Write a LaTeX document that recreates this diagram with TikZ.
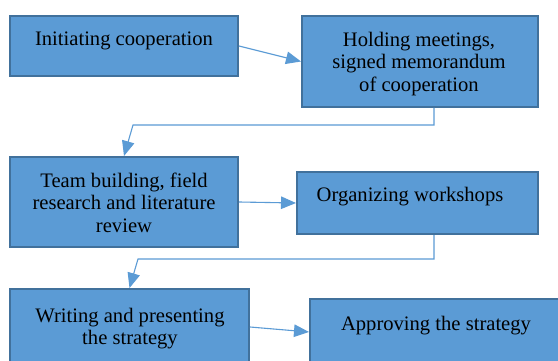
\documentclass[tikz,border=0pt]{standalone}
\usepackage{fontspec}
\setmainfont{Liberation Serif}
\usetikzlibrary{arrows.meta,calc}
\definecolor{boxfill}{HTML}{5B9BD5}
\definecolor{boxline}{HTML}{41719C}
\definecolor{connline}{HTML}{5B9BD5}
\begin{document}
\begin{tikzpicture}[x=1pt,y=-1pt,
  stepbox/.style={draw=boxline, fill=boxfill, line width=2pt, inner sep=0pt, rectangle},
  boxtext/.style={font=\fontsize{20.6}{22.5}\selectfont, align=center, inner sep=0pt, text=black},
  conn/.style={draw=connline, line width=1.1pt, -{Triangle[length=15pt,width=12.5pt]}}]
\useasboundingbox (0,0) rectangle (558,361);
\clip (0,0) rectangle (558,361);
\fill[white] (0,0) rectangle (558,361);
% boxes
\node[stepbox, minimum width=228pt, minimum height=60pt] (b1) at (124,46) {};
\node[stepbox, minimum width=236pt, minimum height=91pt] (b2) at (420,61.5) {};
\node[stepbox, minimum width=228pt, minimum height=90pt] (b3) at (124,202) {};
\node[stepbox, minimum width=241pt, minimum height=62pt] (b4) at (417.5,203) {};
\node[stepbox, minimum width=239pt, minimum height=76pt] (b5) at (129.5,327) {};
\node[stepbox, minimum width=256pt, minimum height=66pt] (b6) at (438,332) {};
% texts
\node[boxtext, anchor=base] (t1) at (124,46) {Initiating cooperation};
\node[boxtext, anchor=north] (t2) at (419,31.7) {Holding meetings,\\signed memorandum\\of cooperation};
\node[boxtext, anchor=north] (t3) at (124,172.7) {Team building, field\\research and literature\\review};
\node[boxtext, anchor=base] (t4) at (410,201.7) {Organizing workshops};
\node[boxtext, anchor=north] (t5) at (130,307.7) {Writing and presenting\\the strategy};
\node[boxtext, anchor=base] (t6) at (436,330) {Approving the strategy};
% connectors
\coordinate (k1) at (434,125);
\coordinate (k2) at (133,125);
\coordinate (k3) at (434,259);
\coordinate (k4) at (138,259);
\draw[conn] (b1.east) -- (b2.west);
\draw[conn] (b2.south -| k1) -- (k1) -- (k2) -- (b3.north);
\draw[conn] (b3.east) -- (b4.west);
\draw[conn] (b4.south -| k3) -- (k3) -- (k4) -- (b5.north);
\draw[conn] (b5.east) -- (b6.west);
\end{tikzpicture}
\end{document}
